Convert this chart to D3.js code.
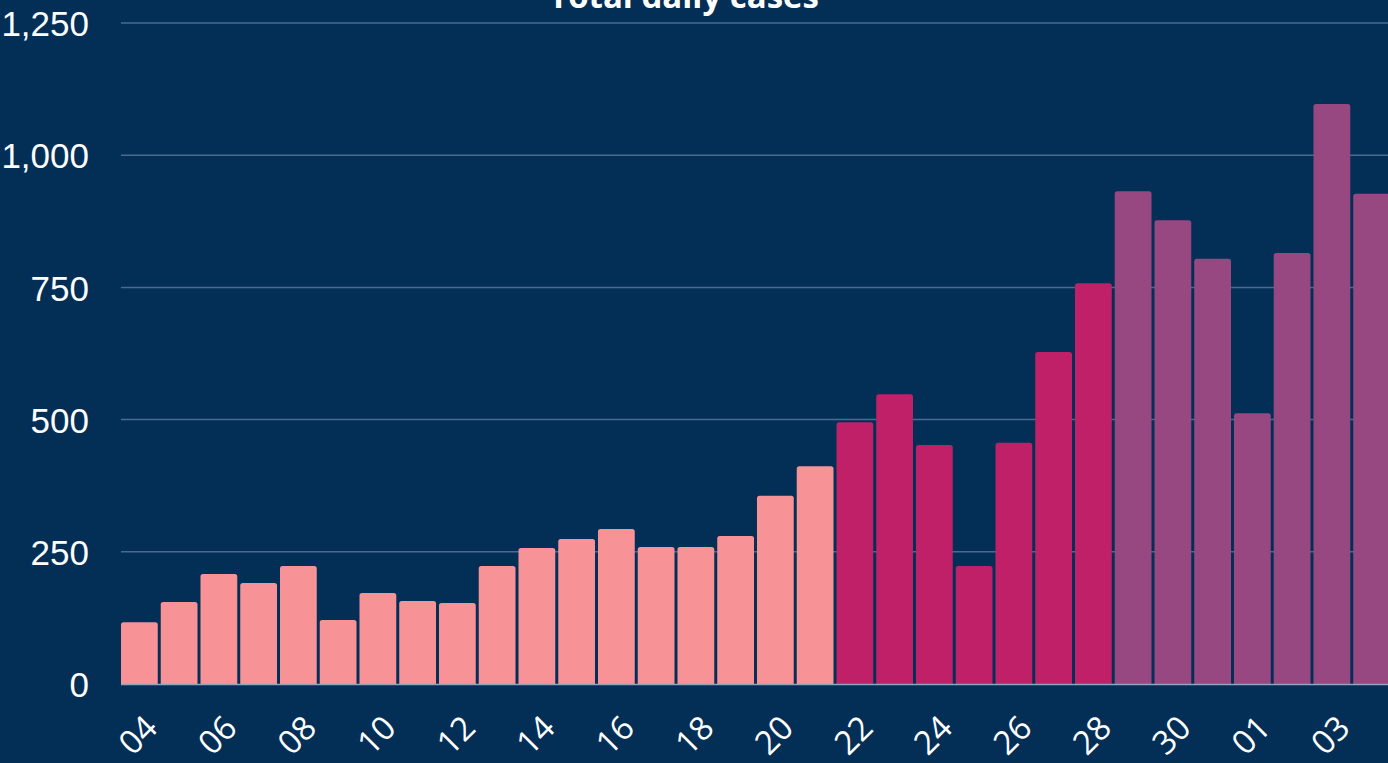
<!DOCTYPE html>
<html>
<head>
<meta charset="utf-8">
<script src="https://cdn.jsdelivr.net/npm/d3@7"></script>
<style>
  html, body { margin: 0; padding: 0; background: #032f57; overflow: hidden; }
  .tick text { fill: #ffffff; }
</style>
</head>
<body>
<div id="chart"></div>
<script>
  // one key per bar; the last one repeats "04" so it gets a suffix
  var days = ["04","05","06","07","08","09","10","11","12","13","14","15","16","17","18","19",
              "20","21","22","23","24","25","26","27","28","29","30","31","01","02","03","04b"];
  var cases = [117,155,208,191,223,121,172,157,153,223,257,274,293,259,259,280,
               356,412,495,548,452,223,456,628,758,932,877,804,512,815,1097,927];
  // phase of each bar (0 = pink, 1 = magenta, 2 = purple)
  var phases = [0,0,0,0,0,0,0,0,0,0,0,0,0,0,0,0,0,0,
                1,1,1,1,1,1,1,
                2,2,2,2,2,2,2];
  var phaseColors = ["#f79397", "#c02068", "#974880"];
  var yTicks = [0, 250, 500, 750, 1000, 1250];

  var width = 1388, height = 763,
      margin = { top: 23, right: -2, bottom: 79, left: 121 };

  const svg = d3.select("#chart").append("svg")
      .attr("width", width)
      .attr("height", height);

  var x = d3.scaleBand()
      .domain(days)
      .range([margin.left, width - margin.right])
      .paddingInner(0.075)
      .paddingOuter(0);

  var y = d3.scaleLinear()
      .domain([0, 1250])
      .range([height - margin.bottom, margin.top]);

  // gridlines
  svg.append("g")
      .selectAll("line")
      .data(yTicks.slice(1))
      .enter().append("line")
      .attr("x1", margin.left)
      .attr("x2", width)
      .attr("y1", function(d) { return y(d); })
      .attr("y2", function(d) { return y(d); })
      .attr("stroke", "#4b6b8e")
      .attr("stroke-width", 1.5);

  // y axis labels
  var yAxis = svg.append("g")
      .attr("transform", "translate(" + (margin.left - 29) + ",0)")
      .call(d3.axisLeft(y).tickValues(yTicks).tickSize(0).tickFormat(d3.format(",")));
  yAxis.select(".domain").remove();
  yAxis.selectAll("text")
      .attr("dy", "0.36em")
      .style("font-family", "'Liberation Sans', Arial, sans-serif")
      .style("font-size", "35px");

  // bars with rounded tops
  var r = 2.5;
  svg.append("g")
      .selectAll("path")
      .data(cases)
      .enter().append("path")
      .attr("fill", function(d, i) { return phaseColors[phases[i]]; })
      .attr("d", function(d, i) {
        var x0 = x(days[i]), w = x.bandwidth(), y0 = y(d), yb = y(0);
        return "M" + x0 + "," + yb +
               "V" + (y0 + r) +
               "Q" + x0 + "," + y0 + " " + (x0 + r) + "," + y0 +
               "H" + (x0 + w - r) +
               "Q" + (x0 + w) + "," + y0 + " " + (x0 + w) + "," + (y0 + r) +
               "V" + yb + "Z";
      });

  // baseline
  svg.append("line")
      .attr("x1", margin.left)
      .attr("x2", width)
      .attr("y1", y(0) + 0.5)
      .attr("y2", y(0) + 0.5)
      .attr("stroke", "#8ea5bf")
      .attr("stroke-width", 1.5);

  // x axis, every other day
  var xAxis = svg.append("g")
      .attr("transform", "translate(0," + y(0) + ")")
      .call(d3.axisBottom(x)
        .tickValues(days.filter(function(d, i) { return i % 2 === 0; }))
        .tickSize(0)
        .tickFormat(function(d) { return d.slice(0, 2); }));
  xAxis.select(".domain").remove();
  xAxis.selectAll("text")
      .style("font-family", "'Open Sans', sans-serif")
      .style("font-size", "33px")
      .attr("text-anchor", "end")
      .attr("dy", 0)
      .attr("transform", "translate(20,46) rotate(-45)")
      .attr("y", 0)
      .attr("x", 0);

  // title
  svg.append("text")
      .attr("x", 684)
      .attr("y", 8)
      .attr("text-anchor", "middle")
      .attr("fill", "#ffffff")
      .style("font-family", "'Open Sans', sans-serif")
      .style("font-weight", "bold")
      .style("font-size", "33px")
      .text("Total daily cases");
</script>
</body>
</html>
